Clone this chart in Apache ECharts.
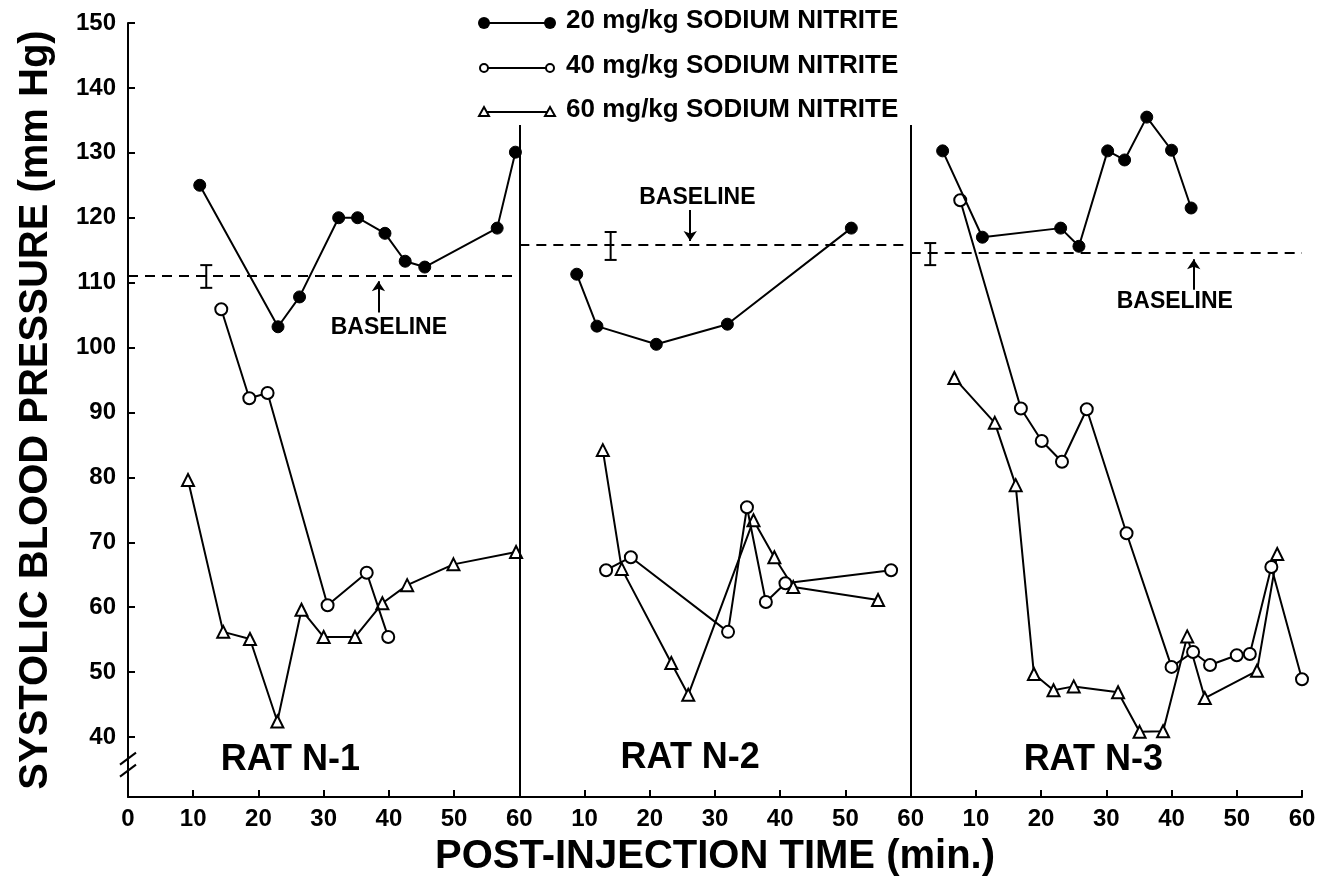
<!DOCTYPE html>
<html>
<head>
<meta charset="utf-8">
<title>Systolic blood pressure after sodium nitrite</title>
<script src="https://cdn.jsdelivr.net/npm/echarts@6/dist/echarts.min.js"></script>
<style>
  html, body { margin: 0; padding: 0; background: #fff; }
  #chart { width: 1328px; height: 890px; }
</style>
</head>
<body>
<div id="chart"></div>
<script>
// doses and rats
const doseNames = ['20 mg/kg SODIUM NITRITE', '40 mg/kg SODIUM NITRITE', '60 mg/kg SODIUM NITRITE'];
const ratNames = ['RAT N-1', 'RAT N-2', 'RAT N-3'];

// [minutes after injection, systolic pressure mm Hg]
const ratN1_20 = [[11, 125], [23, 103.2], [26.3, 107.8], [32.3, 120], [35.2, 120], [39.4, 117.6], [42.5, 113.3], [45.5, 112.4], [56.6, 118.4], [59.4, 130.1]];
const ratN1_40 = [[14.3, 105.9], [18.6, 92.2], [21.4, 93], [30.6, 60.3], [36.6, 65.3], [39.9, 55.4]];
const ratN1_60 = [[9.2, 79.6], [14.6, 56.2], [18.7, 55.1], [22.9, 42.4], [26.6, 59.6], [30, 55.4], [34.8, 55.4], [39, 60.6], [42.8, 63.4], [49.9, 66.6], [59.5, 68.5]];

const ratN2_20 = [[8.8, 111.3], [11.9, 103.3], [21, 100.5], [31.9, 103.6], [50.9, 118.4]];
const ratN2_40 = [[13.3, 65.7], [17.1, 67.7], [32, 56.2], [34.9, 75.4], [37.8, 60.8], [40.8, 63.7], [57, 65.7]];
const ratN2_60 = [[12.8, 84.2], [15.7, 65.9], [23.3, 51.4], [25.9, 46.5], [35.9, 73.4], [39.1, 67.7], [42, 63.1], [55, 61.1]];

const ratN3_20 = [[4.9, 130.3], [11, 117], [23, 118.4], [25.8, 115.6], [30.2, 130.3], [32.8, 128.9], [36.2, 135.5], [40, 130.4], [43, 121.5]];
const ratN3_40 = [[7.6, 122.7], [16.9, 90.6], [20.1, 85.6], [23.2, 82.4], [27, 90.5], [33.1, 71.4], [40, 50.8], [43.3, 53.1], [45.9, 51.1], [50, 52.6], [52, 52.8], [55.3, 66.2], [60, 48.9]];
const ratN3_60 = [[6.7, 95.3], [12.9, 88.4], [16.1, 78.8], [18.9, 49.7], [21.9, 47.2], [25, 47.8], [31.8, 46.9], [35.1, 40.8], [38.7, 40.9], [42.4, 55.5], [45.1, 46], [53.1, 50.2], [56.2, 68.2]];

// baseline (mean and range) per rat, and where the range bar sits
const baselineMean = [111, 115.8, 114.6];
const baselineLow = [109.2, 113.5, 112.7];
const baselineHigh = [112.7, 117.8, 116.1];
const baselineBarTime = [12, 14, 3];

// ticks
const xTickValues = [0, 10, 20, 30, 40, 50, 60, 70, 80, 90, 100, 110, 120, 130, 140, 150, 160, 170, 180];
const xTickLabels = ['0', '10', '20', '30', '40', '50', '60', '10', '20', '30', '40', '50', '60', '10', '20', '30', '40', '50', '60'];
const yTickValues = [40, 50, 60, 70, 80, 90, 100, 110, 120, 130, 140, 150];

const ratData = [
  [ratN1_20, ratN1_40, ratN1_60],
  [ratN2_20, ratN2_40, ratN2_60],
  [ratN3_20, ratN3_40, ratN3_60],
];

const FONT = 'Liberation Sans';
const PANEL = 60; // minutes per rat panel
const Y_MIN = 30.76; // bottom of the broken axis

// each rat gets its own 60 min panel on one shared time axis
const shift = (points, panel) => points.map(p => [p[0] + PANEL * panel, p[1]]);

const doseStyles = [
  { symbol: 'circle', symbolSize: 12, itemStyle: { color: '#000', borderColor: '#000', borderWidth: 1 } },
  { symbol: 'circle', symbolSize: 12, itemStyle: { color: '#fff', borderColor: '#000', borderWidth: 2 } },
  { symbol: 'triangle', symbolSize: 12, itemStyle: { color: '#fff', borderColor: '#000', borderWidth: 2 } },
];

const series = [];
ratData.forEach((doses, panel) => {
  // draw the highest dose first so the filled circles sit on top
  [2, 1, 0].forEach(d => {
    series.push({
      name: doseNames[d],
      type: 'line',
      data: shift(doses[d], panel),
      symbol: doseStyles[d].symbol,
      symbolSize: doseStyles[d].symbolSize,
      itemStyle: doseStyles[d].itemStyle,
      lineStyle: { color: '#000', width: 2 },
      showAllSymbol: true,
      animation: false,
      z: 3 + (2 - d),
    });
  });
});

// dashed baselines, panel dividers and the little arrows
const solid = { type: 'solid', width: 2, color: '#000' };
const markLines = [];
baselineMean.forEach((b, i) => {
  markLines.push([
    { coord: [PANEL * i, b], lineStyle: { type: [10, 7], width: 2, color: '#000' } },
    { coord: [PANEL * (i + 1), b] },
  ]);
});
[1, 2].forEach(i => {
  markLines.push([
    { coord: [PANEL * i, Y_MIN], lineStyle: solid },
    { coord: [PANEL * i, 134.3] },
  ]);
});
markLines.push([{ coord: [38.4, 105.4], symbol: 'none', lineStyle: solid }, { coord: [38.4, 110.2], symbol: 'arrow' }]);
markLines.push([{ coord: [86.2, 121.2], symbol: 'none', lineStyle: solid }, { coord: [86.2, 116.4], symbol: 'arrow' }]);
markLines.push([{ coord: [163.4, 108.9], symbol: 'none', lineStyle: solid }, { coord: [163.4, 113.6], symbol: 'arrow' }]);

const noteLabel = size => ({
  show: true,
  position: 'inside',
  formatter: p => p.name,
  color: '#000',
  fontFamily: FONT,
  fontWeight: 'bold',
  fontSize: size,
});

series.push({
  name: 'baseline',
  type: 'custom',
  animation: false,
  z: 2,
  data: baselineBarTime.map((t, i) => [t + PANEL * i, baselineLow[i], baselineHigh[i]]),
  renderItem: (params, api) => {
    const top = api.coord([api.value(0), api.value(2)]);
    const bot = api.coord([api.value(0), api.value(1)]);
    const w = 6;
    const st = { stroke: '#000', lineWidth: 2 };
    return {
      type: 'group',
      children: [
        { type: 'line', shape: { x1: top[0], y1: top[1], x2: bot[0], y2: bot[1] }, style: st },
        { type: 'line', shape: { x1: top[0] - w, y1: top[1], x2: top[0] + w, y2: top[1] }, style: st },
        { type: 'line', shape: { x1: bot[0] - w, y1: bot[1], x2: bot[0] + w, y2: bot[1] }, style: st },
      ],
    };
  },
  markLine: {
    silent: true,
    symbol: 'none',
    symbolSize: 10,
    animation: false,
    label: { show: false },
    data: markLines,
  },
  markPoint: {
    silent: true,
    animation: false,
    symbol: 'rect',
    symbolSize: 1,
    itemStyle: { color: 'rgba(0,0,0,0)' },
    data: [
      { name: 'BASELINE', coord: [40, 103], label: noteLabel(23) },
      { name: 'BASELINE', coord: [87.3, 123.1], label: noteLabel(23) },
      { name: 'BASELINE', coord: [160.5, 107], label: noteLabel(23) },
      { name: ratNames[0], coord: [24.9, 36.4], label: noteLabel(36) },
      { name: ratNames[1], coord: [86.2, 36.8], label: noteLabel(36) },
      { name: ratNames[2], coord: [148, 36.5], label: noteLabel(36) },
    ],
  },
});

const chart = echarts.init(document.getElementById('chart'));
chart.setOption({
  animation: false,
  backgroundColor: '#fff',
  grid: { left: 128, right: 26, top: 23, bottom: 93 },
  xAxis: {
    type: 'value',
    min: 0,
    max: 180,
    name: 'POST-INJECTION TIME (min.)',
    nameLocation: 'middle',
    nameGap: 40,
    nameTextStyle: { fontFamily: FONT, fontWeight: 'bold', fontSize: 40, color: '#000' },
    axisLine: { lineStyle: { color: '#000', width: 2 } },
    axisTick: { inside: true, length: 7, lineStyle: { width: 2, color: '#000' }, customValues: xTickValues.slice(1) },
    axisLabel: {
      customValues: xTickValues,
      formatter: v => xTickLabels[xTickValues.indexOf(v)],
      margin: 10,
      color: '#000',
      fontFamily: FONT,
      fontWeight: 'bold',
      fontSize: 24,
    },
    splitLine: { show: false },
  },
  yAxis: {
    type: 'value',
    min: Y_MIN,
    max: 150,
    name: 'SYSTOLIC BLOOD PRESSURE (mm Hg)',
    nameLocation: 'middle',
    nameRotate: 90,
    nameGap: 72,
    nameTextStyle: { fontFamily: FONT, fontWeight: 'bold', fontSize: 40, color: '#000' },
    axisLine: { lineStyle: { color: '#000', width: 2 } },
    axisTick: { inside: true, length: 7, lineStyle: { width: 2, color: '#000' }, customValues: yTickValues },
    axisLabel: {
      customValues: yTickValues,
      margin: 12,
      color: '#000',
      fontFamily: FONT,
      fontWeight: 'bold',
      fontSize: 24,
    },
    splitLine: { show: false },
  },
  series,
});

// hand-drawn style legend: marker, line, marker, text
const legendRowY = [23, 68, 112];
const legendItems = [];
doseNames.forEach((name, i) => {
  const y = legendRowY[i];
  const x1 = 484, x2 = 550;
  legendItems.push({ type: 'line', shape: { x1, y1: y, x2, y2: y }, style: { stroke: '#000', lineWidth: 2 } });
  [x1, x2].forEach(x => {
    if (i === 0) {
      legendItems.push({ type: 'circle', shape: { cx: x, cy: y, r: 6 }, style: { fill: '#000' } });
    } else if (i === 1) {
      legendItems.push({ type: 'circle', shape: { cx: x, cy: y, r: 4 }, style: { fill: '#fff', stroke: '#000', lineWidth: 2 } });
    } else {
      legendItems.push({ type: 'polygon', shape: { points: [[x - 5, y + 4], [x + 5, y + 4], [x, y - 5]] }, style: { fill: '#fff', stroke: '#000', lineWidth: 2 } });
    }
  });
  legendItems.push({
    type: 'text',
    style: { text: name, x: 566, y: y - 2, verticalAlign: 'middle', fill: '#000', font: 'bold 26px "Liberation Sans"' },
  });
});

// axis break marks just below 40, placed through the axis scale
const brk = chart.convertToPixel({ gridIndex: 0 }, [0, 35.6]);
const breakItems = [
  { type: 'rect', shape: { x: brk[0] - 3, y: brk[1] - 9, width: 6, height: 18 }, style: { fill: '#fff' } },
  { type: 'line', shape: { x1: brk[0] - 8, y1: brk[1] - 1, x2: brk[0] + 8, y2: brk[1] - 13 }, style: { stroke: '#000', lineWidth: 2 } },
  { type: 'line', shape: { x1: brk[0] - 8, y1: brk[1] + 11, x2: brk[0] + 8, y2: brk[1] - 1 }, style: { stroke: '#000', lineWidth: 2 } },
];

chart.setOption({
  graphic: [
    { id: 'legend', type: 'group', children: legendItems },
    { id: 'axisBreak', type: 'group', z: 100, children: breakItems },
  ],
});
</script>
</body>
</html>
